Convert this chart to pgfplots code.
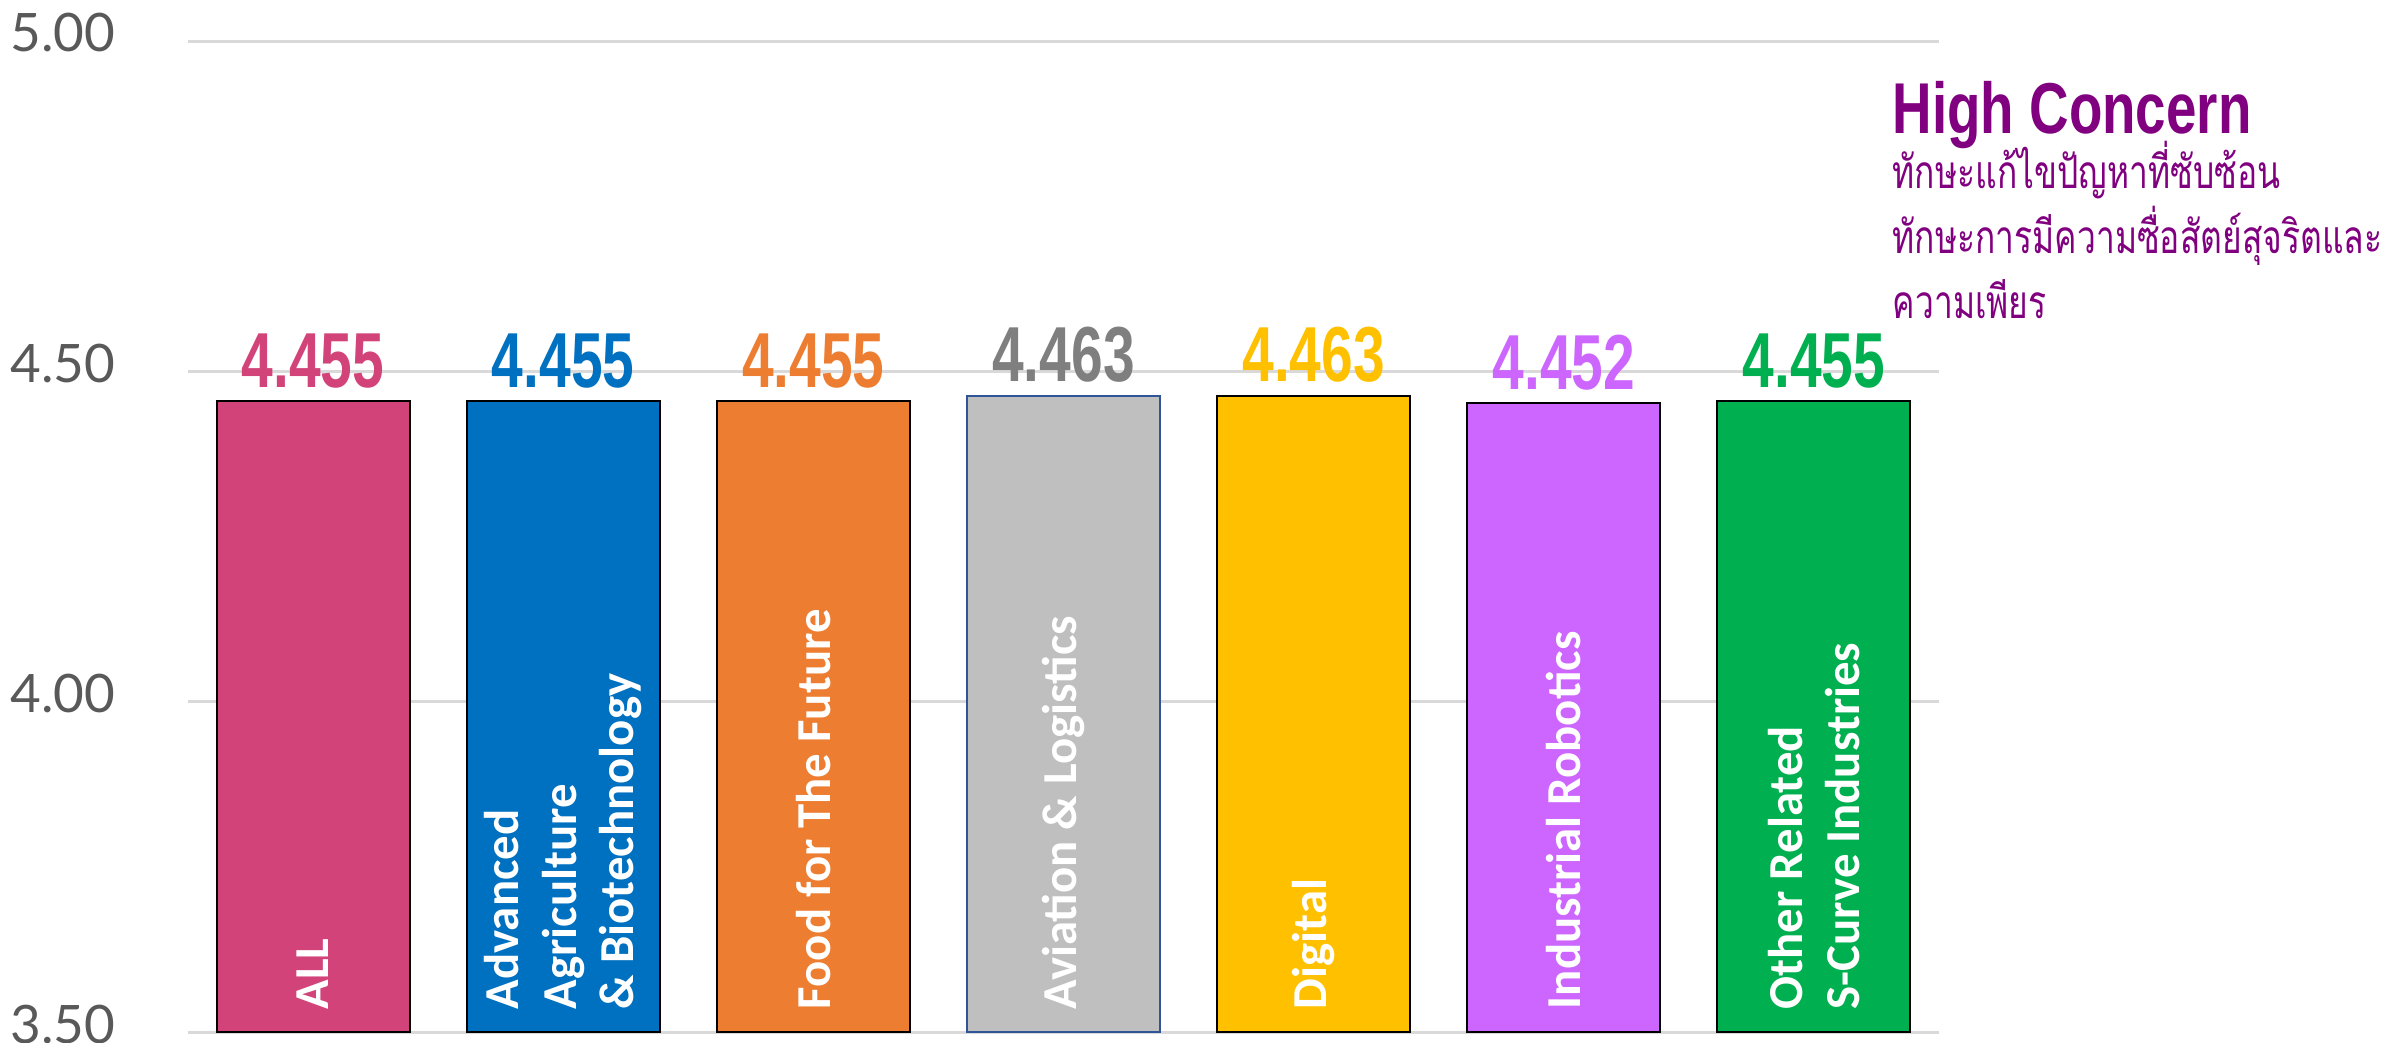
\documentclass[border=0pt]{standalone}
\usepackage{pgfplots}
\pgfplotsset{compat=1.18}
\usepackage{fontspec}
\setmainfont{Carlito}
\newfontfamily\latofont{Lato}
\newfontfamily\impact{Liberation Sans}
\newfontfamily\thaifont[Script=Thai]{Loma}
\definecolor{cAll}{HTML}{D24379}
\definecolor{cAdv}{HTML}{0070C0}
\definecolor{cFood}{HTML}{ED7D31}
\definecolor{cAvi}{HTML}{BFBFBF}
\definecolor{cAviT}{HTML}{7F7F7F}
\definecolor{cAviB}{HTML}{2F5597}
\definecolor{cDig}{HTML}{FFC000}
\definecolor{cInd}{HTML}{CC66FF}
\definecolor{cOth}{HTML}{00B050}
\definecolor{gridgray}{HTML}{D9D9D9}
\definecolor{tickgray}{HTML}{595959}
\definecolor{hc}{HTML}{800080}
\newcommand\vallab{\impact\bfseries\fontsize{19.5}{19.5}\selectfont}
\newcommand\thai[1]{\scalebox{0.73}[1]{\thaifont\fontsize{11.5}{11.5}\selectfont #1}}
\pgfplotsset{
  /pgfplots/layers/labelsontop/.define layer set={axis background,axis grid,axis ticks,axis lines,pre main,main,axis tick labels,axis descriptions,axis foreground}{/pgfplots/layers/standard},
  mybar/.style n args={3}{ybar, bar width=48.25pt, bar shift=0pt, fill=#1, draw=#3, line width=0.5pt,
    point meta=explicit symbolic,
    nodes near coords={\vallab\scalebox{0.73}[1]{\pgfplotspointmeta}},
    every node near coord/.append style={text=#2, anchor=south, inner sep=0pt, yshift=3pt}},
}
\begin{document}
\begin{tikzpicture}
\begin{axis}[
  set layers=labelsontop,
  scale only axis, width=437.75pt, height=247.75pt,
  at={(0pt,0pt)}, anchor=south west,
  xmin=-0.5, xmax=6.5, ymin=3.5, ymax=5,
  ytick={3.5,4,4.5,5},
  ymajorgrids, grid style={draw=gridgray, line width=0.75pt},
  axis line style={draw=none}, major tick length=0pt,
  /pgf/number format/assume math mode=true,
  yticklabel={\pgfmathprintnumber[fixed,fixed zerofill,precision=2]{\tick}},
  yticklabel style={anchor=east, inner sep=0pt, xshift=-18pt, yshift=2pt, text=tickgray, font=\latofont\fontsize{13.25}{13.25}\selectfont},
  xtick={0,1,2,3,4,5,6},
  xticklabels={ALL, {Advanced\\Agriculture\\\& Biotechnology}, Food for The Future, Aviation \& Logistics, Digital, Industrial Robotics, {Other Related\\S-Curve Industries}},
  xticklabel style={yshift=5.5pt, rotate=90, anchor=west, inner sep=0pt, align=left, text=white, font=\bfseries\fontsize{12.2}{14.4}\selectfont},
]
\addplot[mybar={cAll}{cAll}{black}] coordinates {(0,4.455) [4.455]};
\addplot[mybar={cAdv}{cAdv}{black}] coordinates {(1,4.455) [4.455]};
\addplot[mybar={cFood}{cFood}{black}] coordinates {(2,4.455) [4.455]};
\addplot[mybar={cAvi}{cAviT}{cAviB}] coordinates {(3,4.463) [4.463]};
\addplot[mybar={cDig}{cDig}{black}] coordinates {(4,4.463) [4.463]};
\addplot[mybar={cInd}{cInd}{black}] coordinates {(5,4.452) [4.452]};
\addplot[mybar={cOth}{cOth}{black}] coordinates {(6,4.455) [4.455]};
\end{axis}
\node[anchor=base west, inner sep=0pt, text=hc] at (426pt,224.75pt) {\impact\bfseries\fontsize{18}{18}\selectfont\scalebox{0.76}[1]{High Concern}};
\node[anchor=base west, inner sep=0pt, text=hc] at (426pt,211pt) {\thai{ทักษะแก้ไขปัญหาที่ซับซ้อน}};
\node[anchor=base west, inner sep=0pt, text=hc] at (426pt,194.75pt) {\thai{ทักษะการมีความซื่อสัตย์สุจริตและ}};
\node[anchor=base west, inner sep=0pt, text=hc] at (426pt,178.5pt) {\thai{ความเพียร}};
\pgfresetboundingbox
\useasboundingbox (-47pt,-2.5pt) rectangle (551.5pt,258pt);
\end{tikzpicture}
\end{document}
